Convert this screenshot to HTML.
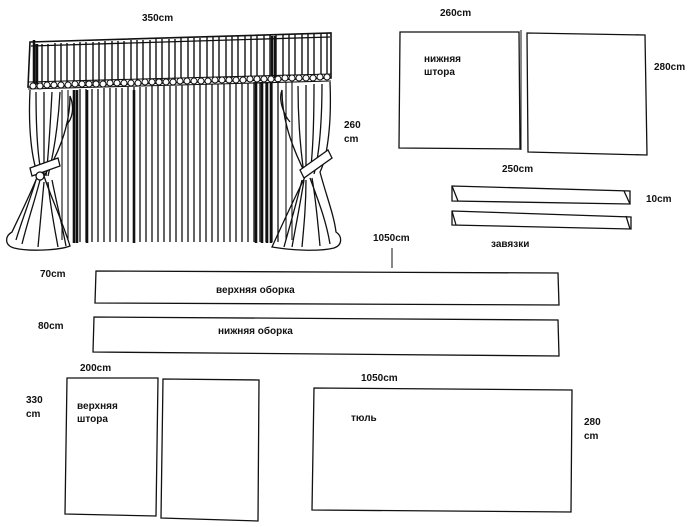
<!DOCTYPE html>
<html><head><meta charset="utf-8"><style>
html,body{margin:0;padding:0;background:#fff;}
svg{display:block}
text{font-family:"Liberation Sans","Noto Sans CJK SC",sans-serif;font-weight:bold;font-size:10px;fill:#111}
</style></head><body>
<svg width="700" height="527" viewBox="0 0 700 527" xmlns="http://www.w3.org/2000/svg">
<g stroke="#111" fill="none" stroke-width="1.3">
<path d="M30 42 L331 33 L331 78 L28 87 Z" stroke-width="1.6"/>
<path d="M31 46 L330 37"/>
<g stroke-width="1.4">
<path d="M36 44V85M42 44V85M48 44V85M55 43V84M61 43V84M67 43V84M74 43V84M80 42V83M86 42V83M93 42V83M99 42V83M105 41V82M112 41V82M118 41V82M124 41V82M131 40V82M137 40V82M143 40V81M150 40V81M156 39V81M162 39V81M169 39V80M175 39V80M181 38V80M188 38V80M194 38V79M200 38V79M207 37V79M213 37V79M219 37V78M226 37V78M232 36V78M238 36V78M245 36V77M251 36V77M257 35V77M264 35V77M270 35V76M276 35V76M283 34V76M289 34V76M295 34V75M302 34V75M308 34V75M314 34V75M321 33V74M327 33V74"/>
</g>
<path d="M34 40V84M37 44V84M272 36V78M275 36V78" stroke-width="2.5"/>
<path d="M28 82 L331 74 M28 89 L331 81" stroke-width="1.1"/>
<g fill="#fff" stroke-width="1">
<circle cx="33" cy="86" r="3"/><circle cx="40" cy="86" r="3"/><circle cx="47" cy="85" r="3"/><circle cx="54" cy="85" r="3"/><circle cx="61" cy="85" r="3"/><circle cx="68" cy="85" r="3"/><circle cx="75" cy="84" r="3"/><circle cx="82" cy="84" r="3"/><circle cx="89" cy="84" r="3"/><circle cx="96" cy="84" r="3"/><circle cx="103" cy="84" r="3"/><circle cx="110" cy="83" r="3"/><circle cx="117" cy="83" r="3"/><circle cx="124" cy="83" r="3"/><circle cx="131" cy="83" r="3"/><circle cx="138" cy="83" r="3"/><circle cx="145" cy="82" r="3"/><circle cx="152" cy="82" r="3"/><circle cx="159" cy="82" r="3"/><circle cx="166" cy="82" r="3"/><circle cx="173" cy="82" r="3"/><circle cx="180" cy="81" r="3"/><circle cx="187" cy="81" r="3"/><circle cx="194" cy="81" r="3"/><circle cx="201" cy="81" r="3"/><circle cx="208" cy="81" r="3"/><circle cx="215" cy="80" r="3"/><circle cx="222" cy="80" r="3"/><circle cx="229" cy="80" r="3"/><circle cx="236" cy="80" r="3"/><circle cx="243" cy="80" r="3"/><circle cx="250" cy="79" r="3"/><circle cx="257" cy="79" r="3"/><circle cx="264" cy="79" r="3"/><circle cx="271" cy="79" r="3"/><circle cx="278" cy="79" r="3"/><circle cx="285" cy="78" r="3"/><circle cx="292" cy="78" r="3"/><circle cx="299" cy="78" r="3"/><circle cx="306" cy="78" r="3"/><circle cx="313" cy="78" r="3"/><circle cx="320" cy="77" r="3"/><circle cx="327" cy="77" r="3"/>
</g>
<g stroke-width="1.3">
<path d="M80 89V242M86 89V242M92 89V242M98 89V242M104 88V242M110 88V242M116 88V242M122 88V242M128 87V242M134 87V242M140 87V242M146 87V242M152 86V242M158 86V242M164 86V242M170 86V242M176 86V242M182 85V242M188 85V242M194 85V242M200 85V242M206 84V242M212 84V242M218 84V242M224 84V242M230 83V242M236 83V242M242 83V242M248 83V242M254 82V242M260 82V242M266 82V242M272 82V242M278 81V242"/>
</g>
<path d="M74 90V243M77 90V243M87 90V243M134 90V243M262 82V243M267 82V243M271 82V243M256 82V243" stroke-width="2.6"/>
<path d="M62 90V240M68 90V240M286 82V240M292 82V240" stroke-width="1.1"/>
<path d="M30 90 C28 130 32 160 38 175 C30 195 20 215 12 232 C5 236 4 245 14 248 C30 252 60 250 70 246 C62 220 50 195 44 176 C55 160 70 130 70 96 C75 108 72 120 66 125"/>
<path d="M36 92 C36 130 38 160 42 176 M44 92 C44 130 44 160 44 176 M52 92 C50 130 48 160 46 176 M60 92 C58 130 52 160 48 176"/>
<path d="M40 180 C35 200 28 220 22 244 M44 182 C42 205 40 225 38 247 M48 182 C50 205 54 225 58 247 M52 180 C56 200 62 225 66 246 M36 180 C30 200 22 220 16 240"/>
<path d="M30 168 L58 158 L60 166 L32 176 Z" fill="#fff"/>
<circle cx="40" cy="176" r="4" fill="#fff"/>
<path d="M330 82 C332 130 326 160 320 172 C326 195 334 215 336 232 C342 236 343 245 334 248 C318 252 290 250 272 247 C282 225 296 195 306 175 C296 155 282 125 282 90 C278 100 284 115 290 122"/>
<path d="M322 84 C322 130 318 160 314 174 M314 84 C314 130 312 160 310 174 M306 85 C306 130 306 160 306 174 M298 86 C298 130 302 160 304 174"/>
<path d="M310 178 C318 200 326 220 330 244 M306 180 C306 205 304 225 302 247 M302 180 C296 205 290 225 284 247 M312 178 C316 200 318 225 320 246 M304 180 C300 205 296 225 292 247"/>
<path d="M300 170 L328 150 L332 158 L304 178 Z" fill="#fff"/>
<path d="M400 32 L519 32 L520 149 L399 148 Z"/>
<path d="M527 33 L645 35 L647 155 L528 152 Z"/>
<path d="M521 30 V150" stroke-width="1"/>
<path d="M452 186 L630 191 L630 204 L452 201 Z"/>
<path d="M452 186 L458 201 M624 191 L630 204"/>
<path d="M452 211 L631 217 L631 229 L452 225 Z"/>
<path d="M452 211 L456 225 M626 216 L630 229"/>
<path d="M392 248 V268" stroke-width="1"/>
<path d="M96 271 L558 273 L559 305 L95 303 Z"/>
<path d="M94 317 L558 320 L559 356 L93 352 Z"/>
<path d="M67 378 L158 378 L156 516 L65 514 Z"/>
<path d="M163 379 L259 380 L258 521 L161 518 Z"/>
<path d="M314 388 L572 390 L571 512 L312 510 Z"/>
</g>
<text x="142" y="21">350cm</text>
<text x="344" y="128">260</text>
<text x="344" y="142">cm</text>
<text x="440" y="16">260cm</text>
<text x="654" y="70">280cm</text>
<text x="424" y="62">нижняя</text>
<text x="424" y="75">штора</text>
<text x="502" y="172">250cm</text>
<text x="646" y="202">10cm</text>
<text x="491" y="247">завязки</text>
<text x="373" y="241">1050cm</text>
<text x="40" y="277">70cm</text>
<text x="216" y="293">верхняя оборка</text>
<text x="38" y="329">80cm</text>
<text x="218" y="334">нижняя оборка</text>
<text x="80" y="371">200cm</text>
<text x="26" y="403">330</text>
<text x="26" y="417">cm</text>
<text x="77" y="409">верхняя</text>
<text x="77" y="422">штора</text>
<text x="361" y="381">1050cm</text>
<text x="351" y="421">тюль</text>
<text x="584" y="425">280</text>
<text x="584" y="439">cm</text>
</svg>
</body></html>
